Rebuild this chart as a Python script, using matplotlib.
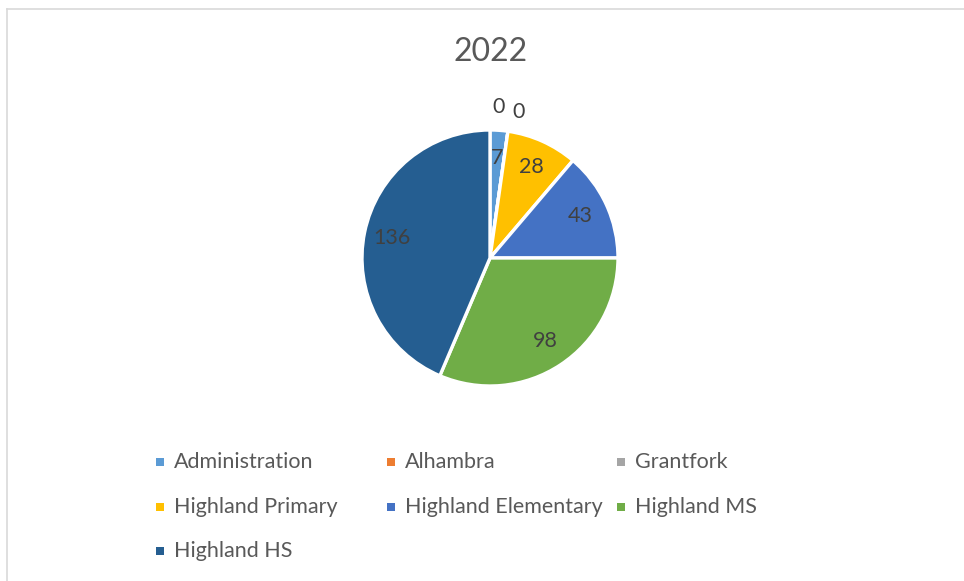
import matplotlib
matplotlib.use("Agg")
import matplotlib.pyplot as plt
from matplotlib.patches import Rectangle
from matplotlib.lines import Line2D
import numpy as np

plt.rcParams['font.family'] = ['Lato', 'DejaVu Sans']

title = "2022"
categories = ["Administration", "Alhambra", "Grantfork", "Highland Primary",
              "Highland Elementary", "Highland MS", "Highland HS"]
values = [7, 0, 0, 28, 43, 98, 136]
colors = ["#5B9BD5", "#ED7D31", "#A5A5A5", "#FFC000", "#4472C4", "#70AD47", "#255E91"]

W, H = 964, 581
fig = plt.figure(figsize=(W / 100, H / 100), dpi=100)
fig.patch.set_facecolor("white")

# chart border (top and left visible)
fig.add_artist(Line2D([7 / W, 1], [1 - 9 / H, 1 - 9 / H], color="#D9D9D9", lw=1.2))
fig.add_artist(Line2D([7 / W, 7 / W], [0, 1 - 9 / H], color="#D9D9D9", lw=1.2))

cx, cy, r = 490, 258, 128
ax = fig.add_axes([(cx - r) / W, 1 - (cy + r) / H, 2 * r / W, 2 * r / H])
wedges, _ = ax.pie(values, colors=colors, startangle=90, counterclock=False,
                   wedgeprops=dict(edgecolor="white", linewidth=2.4))
ax.set_xlim(-1, 1)
ax.set_ylim(-1, 1)
ax.set_axis_off()

# data labels
zero_count = 0
for w, v in zip(wedges, values):
    th = np.deg2rad((w.theta1 + w.theta2) / 2)
    if v == 0:
        # zero-size slices: labels outside, staggered
        d = 1.18 if zero_count == 0 else 1.16
        th = th + np.deg2rad(4.7 if zero_count == 0 else -3.1)
        zero_count += 1
    else:
        d = 0.78
    ax.text(d * np.cos(th), d * np.sin(th), str(v), ha="center", va="center",
            fontsize=15.5, color="#404040")

fig.text(491 / W, 1 - 52 / H, title, ha="center", va="center",
         fontsize=23, color="#595959")

# legend (row-major, 3 columns)
col_x = [160, 391, 621]
row_y = [462, 507, 551]
for i, (c, col) in enumerate(zip(categories, colors)):
    rr, cc = divmod(i, 3)
    x, y = col_x[cc], row_y[rr]
    fig.add_artist(Rectangle(((x - 4) / W, 1 - (y + 4) / H), 8 / W, 8 / H,
                             transform=fig.transFigure, facecolor=col, edgecolor="none"))
    fig.text((x + 14) / W, 1 - y / H, c, ha="left", va="center",
             fontsize=15.5, color="#595959")

fig.savefig("out.png", dpi=100)
